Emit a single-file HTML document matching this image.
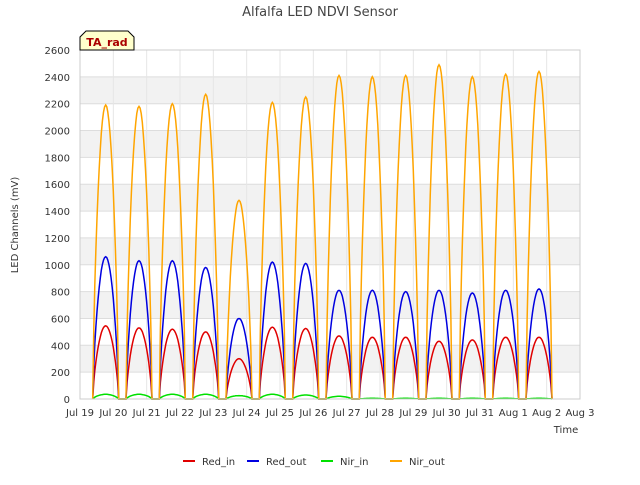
<!DOCTYPE html>
<html><head><meta charset="utf-8"><style>
body{margin:0;background:#fff;font-family:"Liberation Sans",sans-serif}
text{font-family:"DejaVu Sans","Liberation Sans",sans-serif}
</style></head><body>
<svg width="640" height="480" xmlns="http://www.w3.org/2000/svg">
<rect width="640" height="480" fill="#fff"/>
<text x="320" y="16" text-anchor="middle" font-size="13" fill="#444">Alfalfa LED NDVI Sensor</text>
<g id="plot"></g>
<text x="18" y="225" font-size="10" fill="#333" text-anchor="middle" transform="rotate(-90 18 225)">LED Channels (mV)</text>
<text x="566" y="433" font-size="10" fill="#333" text-anchor="middle">Time</text>
<g>
<path d="M80,50 L80,37 L86,31 L128,31 L134,37 L134,50 Z" fill="#ffffcc" stroke="#000"/>
<text x="107" y="46" font-size="11" font-weight="bold" fill="#a00" text-anchor="middle">TA_rad</text>
</g>
<g id="legend"></g>
</svg>
<script>
const dayLabels=["Jul 19","Jul 20","Jul 21","Jul 22","Jul 23","Jul 24","Jul 25","Jul 26","Jul 27","Jul 28","Jul 29","Jul 30","Jul 31","Aug 1","Aug 2","Aug 3"];
const yTicks=[0,200,400,600,800,1000,1200,1400,1600,1800,2000,2200,2400,2600];
const seriesNames=["Red_in","Red_out","Nir_in","Nir_out"];
const seriesColors=["#e00000","#0000e0","#00e000","#ffa500"];
const redInPeaks=[545,530,520,500,300,535,525,470,460,460,430,440,460,460];
const redOutPeaks=[1060,1030,1030,980,600,1020,1010,810,810,800,810,790,810,820];
const nirInPeaks=[35,35,35,35,25,35,30,20,5,5,5,5,5,5];
const nirOutPeaks=[2190,2180,2200,2270,1480,2210,2250,2410,2400,2410,2490,2400,2420,2440];
const NS="http://www.w3.org/2000/svg";
const x0=80,x1=580,y0=399,y1=50;
const xs=d=>x0+(d/15)*(x1-x0);
const ys=v=>y0-(v/2600)*(y0-y1);
const plot=document.getElementById('plot');
function mk(tag,attrs,parent){const e=document.createElementNS(NS,tag);for(const k in attrs)e.setAttribute(k,attrs[k]);(parent||plot).appendChild(e);return e;}
for(let i=0;i<yTicks.length-1;i++){
  if(i%2===1){const r=mk('rect',{x:x0,y:ys(yTicks[i+1]),width:x1-x0,height:ys(yTicks[i])-ys(yTicks[i+1]),fill:'#f2f2f2'});
  
  }
}
yTicks.forEach(v=>{
  const l=mk('line',{x1:x0,x2:x1,y1:ys(v),y2:ys(v),stroke:'#ddd'});
  
  
  const t=mk('text',{x:x0-10,y:ys(v)+4,'font-size':10,'text-anchor':'end',fill:'#333'});
  t.textContent=v;
  
  
});
dayLabels.forEach((s,i)=>{
  const l=mk('line',{x1:xs(i),x2:xs(i),y1:y1,y2:y0,stroke:'#e6e6e6'});
  
  
  const t=mk('text',{x:xs(i),y:y0+17,'font-size':10,'text-anchor':'middle',fill:'#333'});
  t.textContent=s;
  
  
});
const all=[redInPeaks,redOutPeaks,nirInPeaks,nirOutPeaks];
all.forEach((peaks,si)=>{
  let pts=[];
  peaks.forEach((p,d)=>{
    const a=d+0.38,b=d+1.16;
    pts.push([a,0]);
    for(let k=1;k<24;k++){const f=k/24;const v=p*Math.pow(Math.sin(Math.PI*f),0.7);pts.push([a+(b-a)*f,v]);}
    pts.push([b,0]);
  });
  const pl=mk('polyline',{points:pts.map(q=>xs(q[0]).toFixed(1)+','+ys(q[1]).toFixed(1)).join(' '),fill:'none',stroke:seriesColors[si],'stroke-width':1.5});
  
  
});
const ax=mk('rect',{x:x0,y:y1,width:x1-x0,height:y0-y1,fill:'none',stroke:'#ccc'});


const lg=document.getElementById('legend');
const lx=[183,247,321,390];
seriesNames.forEach((n,i)=>{
  const g=mk('g',{},lg);
  
  
  mk('line',{x1:lx[i],x2:lx[i]+12,y1:461,y2:461,stroke:seriesColors[i],'stroke-width':2},g);
  const t=mk('text',{x:lx[i]+19,y:465,'font-size':10,fill:'#333'},g);
  t.textContent=n;
});
</script>
</body></html>
